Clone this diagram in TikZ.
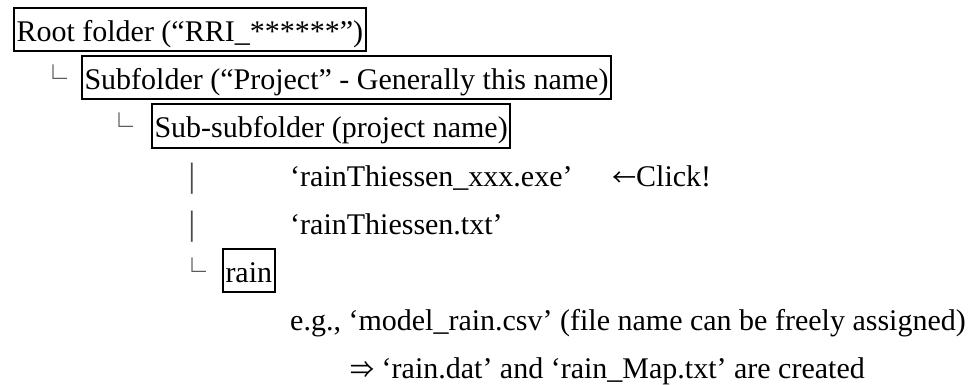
\documentclass[tikz,border=0pt]{standalone}
\usepackage{fontspec}
\setmainfont{Liberation Serif}
\newfontfamily\jpfont{Noto Sans CJK JP}
\newcommand{\jpsign}[1]{{\jpfont\fontsize{24}{30}\selectfont #1}}
\usetikzlibrary{positioning}

\begin{document}
\begin{tikzpicture}[
        x=1pt, y=1pt,
        font=\fontsize{30}{36}\selectfont,
        entry/.style={anchor=west, inner xsep=0pt, inner ysep=6.5pt, text height=27pt, text depth=3pt},
        folder/.style={entry, draw, line width=2pt, inner xsep=2.5pt},
        branch/.style={
            anchor=center, inner sep=0pt,
            text height=27pt, text depth=3pt, text=black!70,
            font=\fontsize{28}{34}\selectfont\jpfont
        }
    ]
    \useasboundingbox (0,0) rectangle (971,-385);

    % Folders
    \node[folder] (root) at (13,-30) {Root folder (“RRI\_******”)};
    \node[branch] (c1) at (53,-78) {└};
    \node[folder] (sub) at (81,-78) {Subfolder (“Project” - Generally this name)};
    \node[branch] (c2) at (119,-126) {└};
    \node[folder] (subsub) at (151,-126) {Sub-subfolder (project name)};

    % Files in the project folder
    \node[branch] (b1) at (192,-174) {|};
    \node[entry] (exe) at (290,-174) {‘rainThiessen\_xxx.exe’};
    \node[entry] (click) at (612,-174) {\jpsign{←}Click!};
    \node[branch] (b2) at (192,-222) {|};
    \node[entry] (txt) at (290,-222) {‘rainThiessen.txt’};

    % Rain folder
    \node[branch] (c3) at (192,-270) {└};
    \node[folder] (rain) at (222,-270) {rain};
    \node[entry] (csv) at (290,-318) {e.g., ‘model\_rain.csv’ (file name can be freely assigned)};
    \node[entry] (made) at (350,-366) {\jpsign{⇒}\ ‘rain.dat’ and ‘rain\_Map.txt’ are created};

\end{tikzpicture}
\end{document}
